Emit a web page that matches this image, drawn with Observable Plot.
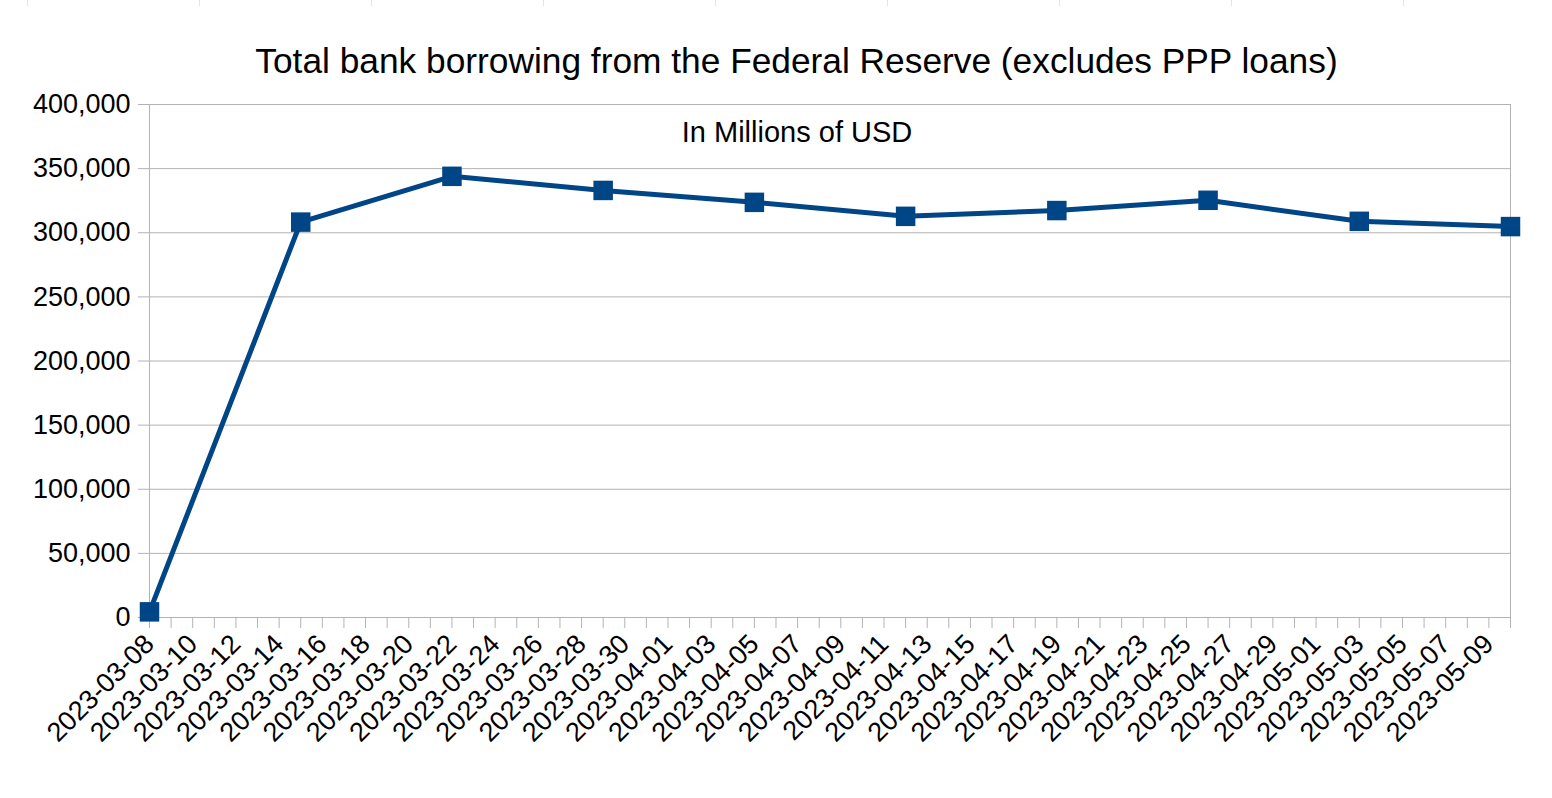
<!DOCTYPE html>
<html>
<head>
<meta charset="utf-8">
<script src="https://cdn.jsdelivr.net/npm/d3@7"></script>
<script src="https://cdn.jsdelivr.net/npm/@observablehq/plot@0.6"></script>
<style>
  html, body { margin: 0; padding: 0; background: #fff; }
  #wrap { position: relative; width: 1552px; height: 798px; overflow: hidden; }
  #cells { position: absolute; left: 0; top: 0; width: 1552px; height: 6px;
    background: repeating-linear-gradient(to right, transparent 0, transparent 27px, #e4e4e4 27px, #e4e4e4 28px, transparent 28px, transparent 172px);
    background-position: 0 0; }
  svg { font-family: "Liberation Sans", Arial, sans-serif; }
</style>
</head>
<body>
<div id="wrap"><div id="cells"></div><div id="chart"></div></div>
<script>
const titleText = "Total bank borrowing from the Federal Reserve (excludes PPP loans)";
const subtitleText = "In Millions of USD";
const dates = ["2023-03-08","2023-03-15","2023-03-22","2023-03-29","2023-04-05","2023-04-12","2023-04-19","2023-04-26","2023-05-03","2023-05-10"];
const values = [4400, 308300, 344000, 333000, 323700, 312800, 317300, 325300, 308900, 304800];
const yTicks = [0, 50000, 100000, 150000, 200000, 250000, 300000, 350000, 400000];
const xStart = "2023-03-08";
const xEnd = "2023-05-10";

const parse = d3.utcParse("%Y-%m-%d");
const data = dates.map((d, i) => ({date: parse(d), value: values[i]}));
const x0 = parse(xStart), x1 = parse(xEnd);
const dayTicks = d3.utcDay.range(x0, d3.utcDay.offset(x1, 1));
const labelTicks = d3.utcDay.range(x0, d3.utcDay.offset(x1, 1)).filter((d, i) => i % 2 === 0);

const grid = "#b3b3b3";
const blue = "#004586";

const chart = Plot.plot({
  width: 1552,
  height: 798,
  marginLeft: 149,
  marginRight: 42,
  marginTop: 104,
  marginBottom: 181,
  style: {fontFamily: '"Liberation Sans", Arial, sans-serif', background: "#fff", overflow: "visible"},
  x: {type: "utc", domain: [x0, x1]},
  y: {domain: [0, 400000]},
  marks: [
    Plot.gridY(yTicks, {stroke: grid, strokeOpacity: 1, strokeWidth: 1}),
    Plot.ruleX([x0, x1], {y1: 0, y2: 400000, stroke: grid, strokeWidth: 1}),
    Plot.axisY(yTicks, {tickFormat: d3.format(","), tickSize: 11, tickPadding: 8, fontSize: 27, stroke: grid, strokeOpacity: 1, fill: "#000", label: null}),
    Plot.axisX(dayTicks, {tickSize: 11, tickFormat: () => "", stroke: grid, strokeOpacity: 1, label: null}),
    Plot.axisX(labelTicks, {tickSize: 0, tickPadding: 22, tickRotate: -45, tickFormat: d3.utcFormat("%Y-%m-%d"), fontSize: 27, fill: "#000", label: null}),
    Plot.ruleY([0], {stroke: grid, strokeWidth: 1}),
    Plot.line(data, {x: "date", y: "value", stroke: blue, strokeWidth: 5, strokeLinejoin: "round"}),
    Plot.dot(data, {x: "date", y: "value", symbol: "square", r: 11, fill: blue, stroke: "none"}),
    Plot.text([titleText], {frameAnchor: "top", lineAnchor: "top", dx: -33.5, dy: -57, fontSize: 35.3, fill: "#000"}),
    Plot.text([subtitleText], {frameAnchor: "top", lineAnchor: "top", dx: -33, dy: 16.5, fontSize: 29, fill: "#000"})
  ]
});
document.getElementById("chart").appendChild(chart);
</script>
</body>
</html>
